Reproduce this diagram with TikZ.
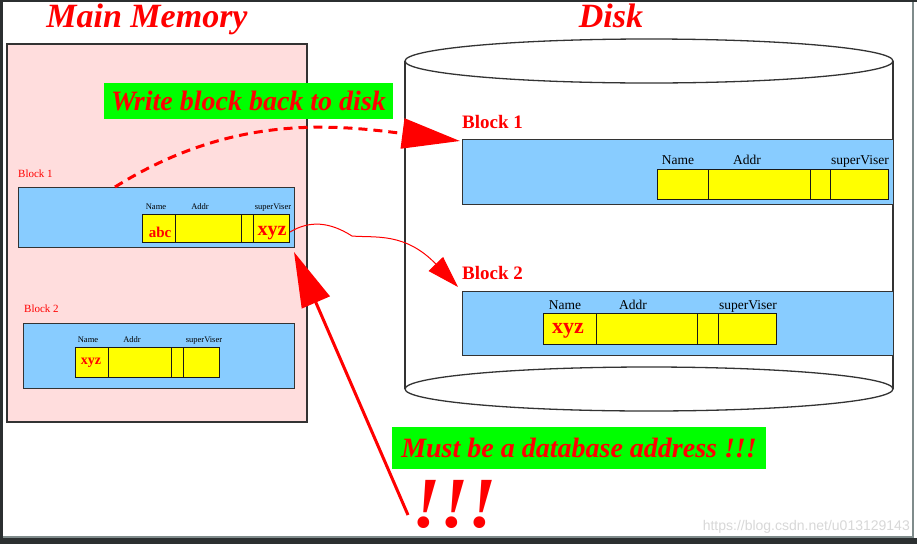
\documentclass[tikz,border=0pt]{standalone}
\usepackage{fontspec}
\setmainfont{Liberation Serif}
\newfontfamily\wmfont{Liberation Sans}
\usetikzlibrary{arrows.meta}
\definecolor{pinkbg}{HTML}{FFDDDD}
\definecolor{blockblue}{HTML}{88CCFF}
\definecolor{recyellow}{HTML}{FFFF00}
\definecolor{labgreen}{HTML}{00FF00}
\definecolor{framedark}{HTML}{2B2F30}
\definecolor{framegray}{HTML}{7F8B8B}
\definecolor{wmgray}{HTML}{D8D8D8}
\begin{document}
\begin{tikzpicture}[x=1pt,y=-1pt,
  memarea/.style={draw=black!80, line width=1.6pt, fill=pinkbg, inner sep=0, anchor=north west},
  blockrect/.style={draw=black!80, line width=1.3pt, fill=blockblue, inner sep=0, anchor=north west},
  cell/.style={draw=black!90, line width=1.2pt, fill=recyellow, inner sep=0, anchor=north west},
  title/.style={text=red, font=\fontsize{34}{34}\selectfont\bfseries\itshape, inner sep=0, anchor=base},
  greenbox/.style={fill=labgreen, text=red, font=\fontsize{28}{28}\selectfont\bfseries\itshape, inner sep=0},
  smallblock/.style={text=red, font=\fontsize{11}{11}\selectfont, inner sep=0, anchor=base west},
  bigblock/.style={text=red, font=\fontsize{19}{19}\selectfont\bfseries, inner sep=0, anchor=base west},
  tinyfield/.style={text=black, font=\fontsize{8.5}{8.5}\selectfont, inner sep=0, anchor=base},
  diskfield/.style={text=black, font=\fontsize{13.5}{13.5}\selectfont, inner sep=0, anchor=base},
  content/.style={text=red, font=\bfseries, inner sep=0, anchor=base},
  diskline/.style={draw=black!80, line width=1.3pt},
  redarrow/.style={draw=red, line width=3pt}
]
\useasboundingbox (0,0) rectangle (917,544);
\fill[white] (0,0) rectangle (917,544);

% titles
\node[title] (tmem) at (147,27) {Main Memory};
\node[title] (tdisk) at (611,27) {Disk};

% main memory area
\node[memarea, minimum width=300, minimum height=378] (mem) at (6,43) {};

% memory block 1
\node[smallblock] (mb1lab) at (18,177) {Block 1};
\node[blockrect, minimum width=276, minimum height=60] (m1) at (18,187) {};
\node[cell, minimum width=33, minimum height=28] (m1c1) at (142,214) {};
\node[cell, minimum width=66, minimum height=28] (m1c2) at (175,214) {};
\node[cell, minimum width=12, minimum height=28] (m1c3) at (241,214) {};
\node[cell, minimum width=36, minimum height=28] (m1c4) at (253,214) {};
\node[tinyfield] (m1f1) at (156,209) {Name};
\node[tinyfield] (m1f2) at (200,209) {Addr};
\node[tinyfield] (m1f3) at (273,209) {superViser};
\node[content, font=\fontsize{15}{15}\selectfont\bfseries] (abc) at (160,237) {abc};
\node[content, font=\fontsize{20}{20}\selectfont\bfseries] (xyz1) at (272,235) {xyz};

% memory block 2
\node[smallblock] (mb2lab) at (24,312) {Block 2};
\node[blockrect, minimum width=271, minimum height=65] (m2) at (23,323) {};
\node[cell, minimum width=33, minimum height=30] (m2c1) at (75,347) {};
\node[cell, minimum width=63, minimum height=30] (m2c2) at (108,347) {};
\node[cell, minimum width=12, minimum height=30] (m2c3) at (171,347) {};
\node[cell, minimum width=36, minimum height=30] (m2c4) at (183,347) {};
\node[tinyfield] (m2f1) at (88,342) {Name};
\node[tinyfield] (m2f2) at (132,342) {Addr};
\node[tinyfield] (m2f3) at (204,342) {superViser};
\node[content, font=\fontsize{14}{14}\selectfont\bfseries] (xyz2) at (91,364) {xyz};

% disk cylinder
\draw[diskline] (405,61) -- (405,389);
\draw[diskline] (893,61) -- (893,389);
\draw[diskline, fill=white] (649,389) ellipse [x radius=244, y radius=22];
\draw[diskline, fill=white] (649,61) ellipse [x radius=244, y radius=22];

% disk block 1
\node[bigblock] (db1lab) at (462,128) {Block 1};
\node[blockrect, minimum width=431, minimum height=65] (d1) at (462,139) {};
\node[cell, minimum width=51, minimum height=30] (d1c1) at (657,169) {};
\node[cell, minimum width=102, minimum height=30] (d1c2) at (708,169) {};
\node[cell, minimum width=20, minimum height=30] (d1c3) at (810,169) {};
\node[cell, minimum width=58, minimum height=30] (d1c4) at (830,169) {};
\node[diskfield] (d1f1) at (678,164) {Name};
\node[diskfield] (d1f2) at (747,164) {Addr};
\node[diskfield] (d1f3) at (860,164) {superViser};

% disk block 2
\node[bigblock] (db2lab) at (462,279) {Block 2};
\node[blockrect, minimum width=431, minimum height=64] (d2) at (462,291) {};
\node[cell, minimum width=53, minimum height=31] (d2c1) at (543,313) {};
\node[cell, minimum width=101, minimum height=31] (d2c2) at (596,313) {};
\node[cell, minimum width=21, minimum height=31] (d2c3) at (697,313) {};
\node[cell, minimum width=58, minimum height=31] (d2c4) at (718,313) {};
\node[diskfield] (d2f1) at (565,309) {Name};
\node[diskfield] (d2f2) at (633,309) {Addr};
\node[diskfield] (d2f3) at (748,309) {superViser};
\node[content, font=\fontsize{22}{22}\selectfont\bfseries] (xyz3) at (568,333) {xyz};

% callouts
\node[greenbox, minimum width=289, minimum height=36] (write) at (248.5,101) {Write block back to disk};
\node[greenbox, minimum width=374, minimum height=42] (must) at (579,448) {Must be a database address !!!};
\node[text=red, font=\fontsize{72}{72}\selectfont\bfseries\itshape, inner sep=0, anchor=base west] (bang) at (412,527) {!!!};

% connectors
\coordinate (wstart) at (115,187);
\coordinate (wend) at (460,141);
\draw[red, line width=3pt, dash pattern=on 9pt off 6pt, -{Triangle[length=58pt,width=30pt]}]
  (wstart) .. controls (230,115) and (330,124) .. (wend);

\coordinate (xstart) at (290,232);
\coordinate (xmid) at (352,236);
\coordinate (xend) at (458,287);
\draw[red, line width=1pt, -{Triangle[length=32pt,width=20pt]}]
  (xstart) .. controls (310,220) and (330,222) .. (xmid)
  .. controls (375,238) and (405,232) .. (xend);

\coordinate (bstart) at (408,515);
\coordinate (bend) at (294,252);
\draw[redarrow, -{Triangle[length=55pt,width=30pt]}] (bstart) -- (bend);

% watermark
\node[text=wmgray, font=\wmfont\fontsize{14}{14}\selectfont, inner sep=0, anchor=base east] (wm) at (910,530) {https://blog.csdn.net/u013129143};

% frame
\fill[framedark] (0,0) rectangle (917,2);
\fill[framedark] (0,0) rectangle (3,544);
\fill[framedark] (0,538) rectangle (917,544);
\draw[framegray, line width=1.8pt] (913,2) -- (913,537) -- (3,537);
\end{tikzpicture}
\end{document}
